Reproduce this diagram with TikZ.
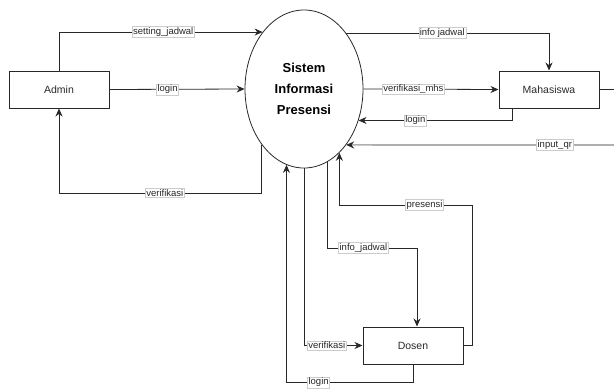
\documentclass[tikz,border=0pt]{standalone}
\usepackage{fontspec}
\setmainfont{Liberation Sans}
\usetikzlibrary{arrows.meta,positioning,shapes.geometric}
\definecolor{ink}{RGB}{40,40,40}
\definecolor{qrline}{RGB}{175,175,175}

\begin{document}
\begin{tikzpicture}[x=1pt, y=-1pt,
  entity/.style={draw=ink, line width=1pt, minimum width=100pt, minimum height=37pt, inner sep=0pt, font=\fontsize{10.5}{12}\selectfont, text=ink},
  proc/.style={ellipse, draw=ink, line width=0.8pt, minimum width=118pt, minimum height=158pt, inner sep=0pt, align=center, font=\fontsize{13}{21}\selectfont\bfseries},
  flow/.style={draw=ink, line width=0.8pt, -{Stealth[length=8pt, width=7pt]}},
  lbl/.style={fill=white, draw=gray!40, line width=0.4pt, inner sep=1pt, font=\fontsize{9.5}{10}\selectfont, text=ink},
]
\useasboundingbox (0,0) rectangle (614,389);

% Nodes
\node[entity] (admin) at (59, 89.5) {Admin};
\node[proc] (sip) at (304, 89) {Sistem\\Informasi\\Presensi};
\node[entity] (mhs) at (549, 89.5) {Mahasiswa};
\node[entity] (dosen) at (413, 345.5) {Dosen};
\coordinate (mhsout) at (640, 89.5);
\coordinate (qrin) at (640, 145);

% Admin
\draw[flow] (admin.north) |- (sip.126.6) node[lbl, pos=0.756] {setting\_jadwal};
\draw[flow] (admin.east) -- (sip.west) node[lbl, pos=0.43] {login};
\draw[flow] (sip.-127.1) -- (sip.-127.1 |- 0,193) -| (admin.south) node[lbl, pos=0.239] {verifikasi};

% Mahasiswa
\draw[flow] (sip.53.4) -| (mhs.north) node[lbl, pos=0.237] {info jadwal};
\draw[flow] (sip.east) -- (mhs.west) node[lbl, pos=0.37] {verifikasi\_mhs};
\draw[flow] ([xshift=-37pt]mhs.south) |- (sip.-30.4) node[lbl, pos=0.815] {login};
\draw[draw=ink, line width=0.8pt] (mhs.east) -- (mhsout);
\draw[flow, draw=qrline, line width=1.6pt, -{Stealth[length=8pt, width=7pt, color=ink]}] (qrin) -- (sip.-53.4) node[lbl, pos=0.29] {input\_qr};

% Dosen
\draw[flow] (dosen.east) -- ++(9,0) |- (sip.-61.2 |- 0,205) node[lbl, pos=0.68] {presensi} -- (sip.-61.2);
\draw[flow] (sip.-72.4) -- (sip.-72.4 |- 0,248) -| ([xshift=4pt]dosen.north) node[lbl, pos=0.2] {info\_jadwal};
\draw[flow] (sip.south) |- (dosen.west) node[lbl, pos=0.695] {verifikasi};
\draw[flow] (dosen.south) -- (dosen.south |- 0,382.5) -| (sip.257.3) node[lbl, pos=0.373] {login};
\end{tikzpicture}
\end{document}
